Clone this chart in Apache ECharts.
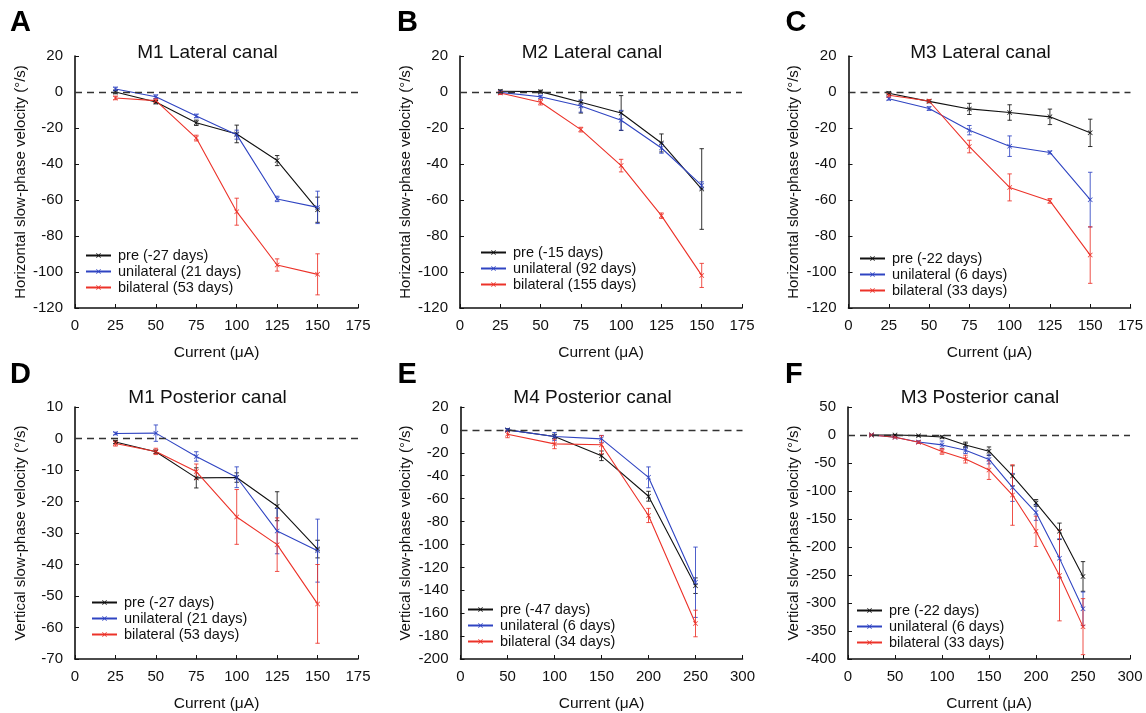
<!DOCTYPE html>
<html>
<head>
<meta charset="utf-8">
<script src="https://cdn.jsdelivr.net/npm/echarts@6/dist/echarts.min.js"></script>
<style>
  html, body { margin: 0; padding: 0; background: #fff; }
  #chart { width: 1146px; height: 713px; }
</style>
</head>
<body>
<div id="chart"></div>
<script>
// Stimulation currents (µA)
const currentLateral = [25, 50, 75, 100, 125, 150];
const currentM4 = [50, 100, 150, 200, 250];
const currentM3P = [25, 50, 75, 100, 125, 150, 175, 200, 225, 250];

// Panel A: M1 lateral canal
const aPre = [0, -5.6, -17.1, -23.3, -38.1, -65.4];
const aPreErr = [1, 1, 1.5, 4.9, 2.8, 7];
const aUni = [1.7, -2.6, -13.3, -23.7, -59.4, -64.1];
const aUniErr = [1, 1, 1, 2.5, 1.5, 9];
const aBi = [-3.3, -4.8, -25.6, -66.5, -96.1, -101.3];
const aBiErr = [1, 1, 1.6, 7.5, 3.4, 11.4];

// Panel B: M2 lateral canal
const bPre = [0.4, 0.2, -5.7, -11.7, -28.3, -53.9];
const bPreErr = [0.8, 0.8, 6, 9.7, 5, 22.4];
const bUni = [-0.2, -2.6, -7.8, -15.7, -31.1, -51.9];
const bUniErr = [0.8, 0.8, 3.4, 5.5, 2.9, 2];
const bBi = [-0.6, -5.7, -20.9, -40.9, -68.7, -101.9];
const bBiErr = [0.8, 1.5, 1.3, 3.5, 1.5, 6.7];

// Panel C: M3 lateral canal
const cPre = [-0.7, -5.2, -9.4, -11.4, -13.8, -22.7];
const cPreErr = [0.8, 0.8, 3.1, 4.3, 4.3, 7.6];
const cUni = [-3.7, -9.2, -21.2, -30.1, -33.6, -59.8];
const cUniErr = [0.8, 1, 2.6, 5.7, 0.8, 15.2];
const cBi = [-1.8, -5.0, -30.3, -53, -60.5, -90.6];
const cBiErr = [1, 0.8, 3.5, 7.5, 1.3, 15.7];

// Panel D: M1 posterior canal
const dPre = [-1.1, -4.2, -12.5, -12.4, -21.5, -35.1];
const dPreErr = [0.5, 0.5, 3.2, 1.5, 4.6, 2.8];
const dUni = [1.6, 1.7, -5.7, -12.3, -29.4, -35.6];
const dUniErr = [0.4, 2.6, 1.5, 3.3, 7.2, 10];
const dBi = [-1.6, -4.1, -10.5, -24.9, -33.7, -52.5];
const dBiErr = [0.8, 1, 2.4, 8.7, 8.5, 12.5];

// Panel E: M4 posterior canal
const ePre = [0, -5.8, -22.6, -57.9, -136];
const ePreErr = [1, 2, 4.2, 4.3, 6.8];
const eUni = [0, -5.8, -7.8, -41.4, -133];
const eUniErr = [1, 3.5, 3, 9.1, 30.7];
const eBi = [-3.8, -12.2, -13, -74.7, -169];
const eBiErr = [3, 4.2, 8, 6.2, 11.6];

// Panel F: M3 posterior canal
const fPre = [0, 0, -1.2, -3.5, -17.7, -28.9, -73, -121.3, -172, -252.6];
const fPreErr = [1, 1, 1, 2, 5, 7.6, 18, 6, 14.7, 26.5];
const fUni = [0, -4.1, -12.4, -17.7, -27.1, -43.6, -93.6, -138.4, -220.3, -310.4];
const fUniErr = [1, 1, 2, 7, 6, 8, 25, 14, 35, 30];
const fBi = [0, -4.1, -13, -29.4, -43, -62.4, -107.2, -172, -250.9, -342.2];
const fBiErr = [1, 1, 2, 5, 7, 17, 54, 27, 81, 50];

// Panel labels, titles, axis names, legend entries
const panelLetters = ['A', 'B', 'C', 'D', 'E', 'F'];
const panelTitles = ['M1 Lateral canal', 'M2 Lateral canal', 'M3 Lateral canal',
                     'M1 Posterior canal', 'M4 Posterior canal', 'M3 Posterior canal'];
const yNameLateral = 'Horizontal slow-phase velocity (°/s)';
const yNamePosterior = 'Vertical slow-phase velocity (°/s)';
const xName = 'Current (μA)';
const legendNames = [
  ['pre (-27 days)', 'unilateral (21 days)', 'bilateral (53 days)'],
  ['pre (-15 days)', 'unilateral (92 days)', 'bilateral (155 days)'],
  ['pre (-22 days)', 'unilateral (6 days)', 'bilateral (33 days)'],
  ['pre (-27 days)', 'unilateral (21 days)', 'bilateral (53 days)'],
  ['pre (-47 days)', 'unilateral (6 days)', 'bilateral (34 days)'],
  ['pre (-22 days)', 'unilateral (6 days)', 'bilateral (33 days)']
];

const COLORS = ['#111111', '#2f44c2', '#ec3229'];
const FONT = '"Liberation Sans", Arial, Helvetica, sans-serif';
const XMARK = 'path://M0,1L1,0L5,4L9,0L10,1L6,5L10,9L9,10L5,6L1,10L0,9L4,5Z';

const panels = [
  { x: currentLateral, lines: [[aPre, aPreErr], [aUni, aUniErr], [aBi, aBiErr]],
    grid: { left: 75, top: 56, width: 283, height: 252 }, xMax: 175, xInt: 25,
    yMin: -120, yMax: 20, yInt: 20, yName: yNameLateral, legend: { left: 85, top: 248 } },
  { x: currentLateral, lines: [[bPre, bPreErr], [bUni, bUniErr], [bBi, bBiErr]],
    grid: { left: 460, top: 56, width: 282, height: 252 }, xMax: 175, xInt: 25,
    yMin: -120, yMax: 20, yInt: 20, yName: yNameLateral, legend: { left: 480, top: 245 } },
  { x: currentLateral, lines: [[cPre, cPreErr], [cUni, cUniErr], [cBi, cBiErr]],
    grid: { left: 848.5, top: 56, width: 282, height: 252 }, xMax: 175, xInt: 25,
    yMin: -120, yMax: 20, yInt: 20, yName: yNameLateral, legend: { left: 859, top: 251 } },
  { x: currentLateral, lines: [[dPre, dPreErr], [dUni, dUniErr], [dBi, dBiErr]],
    grid: { left: 75, top: 407, width: 283, height: 253 }, xMax: 175, xInt: 25,
    yMin: -70, yMax: 10, yInt: 10, yName: yNamePosterior, legend: { left: 91, top: 595 } },
  { x: currentM4, lines: [[ePre, ePreErr], [eUni, eUniErr], [eBi, eBiErr]],
    grid: { left: 460.5, top: 407, width: 282, height: 254 }, xMax: 300, xInt: 50,
    yMin: -200, yMax: 20, yInt: 20, yName: yNamePosterior, legend: { left: 467, top: 602 } },
  { x: currentM3P, lines: [[fPre, fPreErr], [fUni, fUniErr], [fBi, fBiErr]],
    grid: { left: 848, top: 407, width: 282, height: 255 }, xMax: 300, xInt: 50,
    yMin: -400, yMax: 50, yInt: 50, yName: yNamePosterior, legend: { left: 856, top: 603 } }
];

function renderErrorBar(params, api) {
  const x = api.value(0), y = api.value(1), e = api.value(2);
  const hi = api.coord([x, y + e]);
  const lo = api.coord([x, y - e]);
  const cap = 2.2;
  const style = { stroke: api.visual('color'), lineWidth: 1, opacity: 0.85 };
  return {
    type: 'group',
    children: [
      { type: 'line', shape: { x1: hi[0], y1: hi[1], x2: lo[0], y2: lo[1] }, style: style },
      { type: 'line', shape: { x1: hi[0] - cap, y1: hi[1], x2: hi[0] + cap, y2: hi[1] }, style: style },
      { type: 'line', shape: { x1: lo[0] - cap, y1: lo[1], x2: lo[0] + cap, y2: lo[1] }, style: style }
    ]
  };
}

const option = {
  animation: false,
  backgroundColor: '#ffffff',
  textStyle: { fontFamily: FONT },
  grid: [], xAxis: [], yAxis: [], series: [], legend: [], graphic: []
};

panels.forEach((p, i) => {
  option.grid.push(Object.assign({ containLabel: false }, p.grid));
  option.xAxis.push({
    type: 'value', gridIndex: i, min: 0, max: p.xMax, interval: p.xInt,
    name: xName, nameLocation: 'middle', nameGap: 37,
    nameTextStyle: { fontSize: 15.5, color: '#111', fontFamily: FONT },
    axisLine: { onZero: false, lineStyle: { color: '#111', width: 1.6 } },
    axisTick: { inside: true, length: 4, lineStyle: { color: '#111', width: 1 } },
    axisLabel: { fontSize: 15, color: '#111', margin: 10, fontFamily: FONT },
    splitLine: { show: false }
  });
  option.yAxis.push({
    type: 'value', gridIndex: i, min: p.yMin, max: p.yMax, interval: p.yInt,
    name: p.yName, nameLocation: 'middle', nameGap: 47, nameRotate: 90,
    nameTextStyle: { fontSize: 15, color: '#111', fontFamily: FONT },
    axisLine: { show: true, onZero: false, lineStyle: { color: '#111', width: 1.6 } },
    axisTick: { show: true, inside: true, length: 4, lineStyle: { color: '#111', width: 1 } },
    axisLabel: { fontSize: 15, color: '#111', margin: 12, fontFamily: FONT },
    splitLine: { show: false }
  });

  p.lines.forEach((pair, k) => {
    const vals = pair[0], errs = pair[1];
    const color = COLORS[k];
    const lineSeries = {
      type: 'line', name: legendNames[i][k], xAxisIndex: i, yAxisIndex: i,
      data: p.x.map((xv, j) => [xv, vals[j]]),
      symbol: XMARK, symbolSize: 5, showSymbol: true,
      lineStyle: { color: color, width: 1.1 },
      itemStyle: { color: color },
      z: 3
    };
    if (k === 0) {
      lineSeries.markLine = {
        silent: true, symbol: 'none', label: { show: false },
        lineStyle: { color: '#333', width: 1.3, type: [7, 5] },
        data: [{ yAxis: 0 }]
      };
    }
    option.series.push(lineSeries);
    option.series.push({
      type: 'custom', name: 'err-' + i + '-' + k, xAxisIndex: i, yAxisIndex: i,
      renderItem: renderErrorBar,
      itemStyle: { color: color },
      encode: { x: 0, y: 1 },
      data: p.x.map((xv, j) => [xv, vals[j], errs[j]]),
      z: 2
    });
  });

  option.legend.push({
    data: legendNames[i], orient: 'vertical', left: p.legend.left, top: p.legend.top,
    itemWidth: 25, itemHeight: 6, itemGap: 1, padding: 0, selectedMode: false,
    textStyle: { fontSize: 14.5, color: '#111', fontFamily: FONT, padding: [0, 0, 0, 2] }
  });

  const g = p.grid;
  option.graphic.push({
    type: 'text', left: i % 3 === 0 ? 10 : g.left - 63, top: i < 3 ? 8 : 360,
    style: { text: panelLetters[i], font: 'bold 29px ' + FONT, fill: '#000' }
  });
  option.graphic.push({
    type: 'text', x: g.left + g.width / 2 - 9, y: i < 3 ? 53 : 398,
    style: { text: panelTitles[i], font: '19px ' + FONT, fill: '#111',
             textAlign: 'center', textVerticalAlign: 'middle' }
  });
});

const chart = echarts.init(document.getElementById('chart'), null, { renderer: 'canvas' });
chart.setOption(option);
</script>
</body>
</html>
